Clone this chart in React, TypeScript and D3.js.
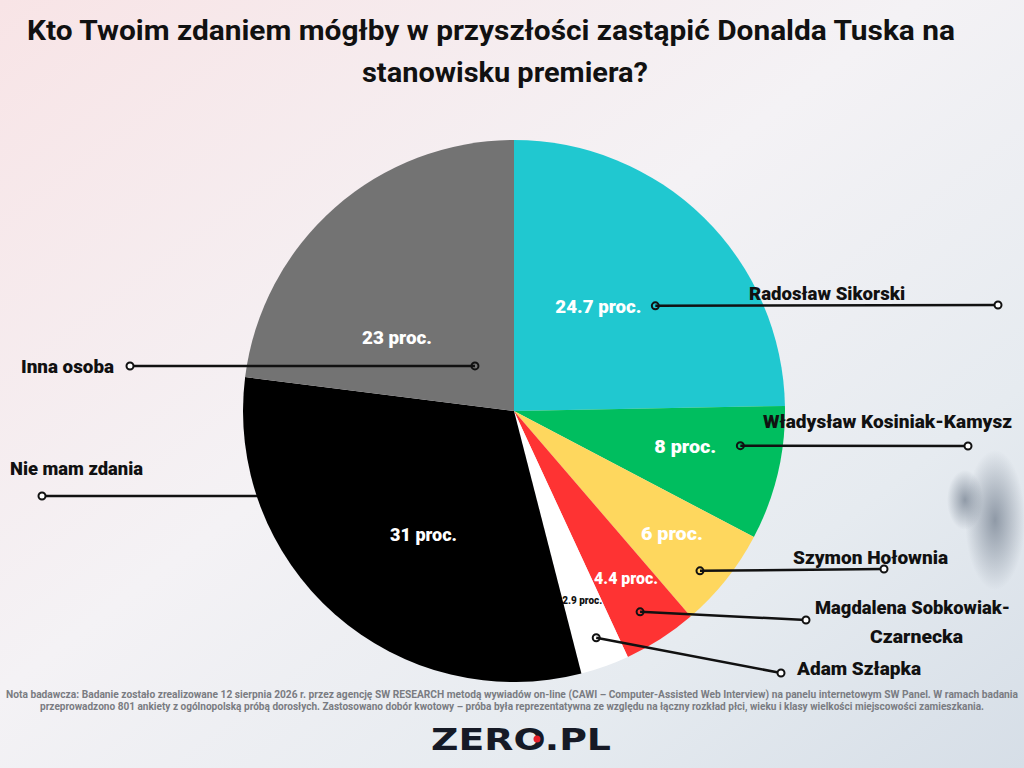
import React, { useEffect, useRef } from 'react';
import * as d3 from 'd3';

// data
const names = ['Radosław Sikorski', 'Władysław Kosiniak-Kamysz', 'Szymon Hołownia', 'Magdalena Sobkowiak-Czarnecka', 'Adam Szłapka', 'Nie mam zdania', 'Inna osoba'];
const values = [24.7, 8, 6, 4.4, 2.9, 31, 23];
const valueLabels = ['24.7 proc.', '8 proc.', '6 proc.', '4.4 proc.', '2.9 proc.', '31 proc.', '23 proc.'];
const colors = ['#20c8d0', '#00be5f', '#fed75e', '#fe3333', '#ffffff', '#000000', '#737373'];

const title = ['Kto Twoim zdaniem mógłby w przyszłości zastąpić Donalda Tuska na', 'stanowisku premiera?'];
const note = [
  'Nota badawcza: Badanie zostało zrealizowane 12 sierpnia 2026 r. przez agencję SW RESEARCH metodą wywiadów on-line (CAWI – Computer-Assisted Web Interview) na panelu internetowym SW Panel. W ramach badania',
  'przeprowadzono 801 ankiety z ogólnopolską próbą dorosłych. Zastosowano dobór kwotowy – próba była reprezentatywna ze względu na łączny rozkład płci, wieku i klasy wielkości miejscowości zamieszkania.'
];

// annotation layout: t = position inside slice, rf = radius fraction for the inner dot,
// end = outer dot, name lines (text, x, y, width), value label offset from the inner dot
const layout = [
  { t: 0.6, rf: 0.65, end: [998, 305], lines: [['Radosław Sikorski', 749, 300, 156]], vx: -14, vy: 7, anchor: 'end', vw: 86, vsize: 19 },
  { t: 0.34, rf: 0.845, end: [968, 446], lines: [['Władysław Kosiniak-Kamysz', 763, 428, 249]], vx: -24, vy: 7, anchor: 'end', vw: 62, vsize: 19 },
  { t: 0.6, rf: 0.905, end: [884, 569], lines: [['Szymon Hołownia', 793, 564, 155]], vx: -59, vy: -31, anchor: 'start', vw: 62, vsize: 19 },
  { t: 0.54, rf: 0.875, end: [806, 620], lines: [['Magdalena Sobkowiak-', 815, 614, 195], ['Czarnecka', 870, 643, 93]], vx: -46, vy: -28, anchor: 'start', vw: 64, vsize: 17 },
  { t: 0.47, rf: 0.89, end: [781, 673], lines: [['Adam Szłapka', 797, 675, 124]], vx: -34, vy: -34, anchor: 'start', vw: 40, vsize: 10 },
  { t: 0.62, rf: 0.68, end: [42, 496], lines: [['Nie mam zdania', 10, 475, 133]], vx: 0, vy: 0, anchor: 'start', vw: 67, vsize: 19 },
  { t: 0.506, rf: 0.22, end: [130, 366], lines: [['Inna osoba', 21, 373, 93]], vx: 0, vy: 0, anchor: 'start', vw: 70, vsize: 19 },
];
// value labels of the two big slices sit freely inside them
const freeValuePos: Record<number, number[]> = { 5: [390, 541], 6: [362, 344] };

const App: React.FC = () => {
  const ref = useRef<SVGSVGElement>(null);

  useEffect(() => {
    const width = 1024;
    const height = 768;
    const cx = 514;
    const cy = 411;
    const r = 271;

    const svg = d3.select(ref.current);
    svg.selectAll('*').remove();
    svg.attr('width', width).attr('height', height);

    // background
    const defs = svg.append('defs');
    const bg = defs.append('linearGradient').attr('id', 'bg')
      .attr('x1', '0%').attr('y1', '0%').attr('x2', '100%').attr('y2', '100%');
    bg.append('stop').attr('offset', '0%').attr('stop-color', '#f8e4e6');
    bg.append('stop').attr('offset', '45%').attr('stop-color', '#f4f2f5');
    bg.append('stop').attr('offset', '75%').attr('stop-color', '#e6ebf0');
    bg.append('stop').attr('offset', '100%').attr('stop-color', '#d6dee7');
    const blob = defs.append('radialGradient').attr('id', 'blob');
    blob.append('stop').attr('offset', '0%').attr('stop-color', '#6c7888').attr('stop-opacity', 0.7);
    blob.append('stop').attr('offset', '100%').attr('stop-color', '#6c7888').attr('stop-opacity', 0);

    svg.append('rect').attr('width', width).attr('height', height).attr('fill', 'url(#bg)');
    svg.append('ellipse').attr('cx', 995).attr('cy', 520).attr('rx', 30).attr('ry', 70).attr('fill', 'url(#blob)');
    svg.append('ellipse').attr('cx', 965).attr('cy', 500).attr('rx', 18).attr('ry', 30).attr('fill', 'url(#blob)');

    // title
    svg.append('g').selectAll('text')
      .data(title)
      .join('text')
      .attr('x', (d, i) => (i === 0 ? 27 : 362))
      .attr('y', (d, i) => 40 + i * 42)
      .attr('font-family', 'Roboto, sans-serif')
      .attr('font-weight', 700)
      .attr('font-size', 28)
      .attr('textLength', (d, i) => (i === 0 ? 928 : 286))
      .attr('lengthAdjust', 'spacingAndGlyphs')
      .attr('fill', '#111')
      .text(d => d);

    // pie
    const pie = d3.pie<number>().sort(null).value(d => d);
    const arcs = pie(values);
    const arc = d3.arc<d3.PieArcDatum<number>>().innerRadius(0).outerRadius(r);
    const g = svg.append('g').attr('transform', `translate(${cx},${cy})`);

    const inner = arcs.map((a, i) => {
      const ang = a.startAngle + layout[i].t * (a.endAngle - a.startAngle);
      const rr = layout[i].rf * r;
      return [cx + rr * Math.sin(ang), cy - rr * Math.cos(ang)];
    });

    // line of "Nie mam zdania" sits behind the pie
    svg.insert('line', 'g')
      .attr('x1', layout[5].end[0]).attr('y1', layout[5].end[1])
      .attr('x2', inner[5][0]).attr('y2', layout[5].end[1])
      .attr('stroke', '#111').attr('stroke-width', 2.5);

    g.selectAll('path')
      .data(arcs)
      .join('path')
      .attr('d', arc)
      .attr('fill', (d, i) => colors[i]);

    // leader lines, names, values
    const ann = svg.append('g');
    layout.forEach((l, i) => {
      if (i !== 5) {
        ann.append('line')
          .attr('x1', inner[i][0]).attr('y1', inner[i][1])
          .attr('x2', l.end[0]).attr('y2', l.end[1])
          .attr('stroke', '#111').attr('stroke-width', 2.5);
        ann.append('circle')
          .attr('cx', inner[i][0]).attr('cy', inner[i][1]).attr('r', 3.5)
          .attr('fill', 'none').attr('stroke', '#111').attr('stroke-width', 2);
      }
      ann.append('circle')
        .attr('cx', l.end[0]).attr('cy', l.end[1]).attr('r', 3.5)
        .attr('fill', '#fff').attr('stroke', '#111').attr('stroke-width', 2);

      ann.selectAll(null)
        .data(l.lines)
        .join('text')
        .attr('x', d => d[1] as number)
        .attr('y', d => d[2] as number)
        .attr('font-family', 'Roboto, sans-serif')
        .attr('font-weight', 900)
        .attr('font-size', 18)
        .attr('textLength', d => d[3] as number)
        .attr('lengthAdjust', 'spacingAndGlyphs')
        .attr('fill', '#111')
        .text(d => d[0] as string);

      const free = freeValuePos[i];
      const vAnchor = free ? 'start' : l.anchor;
      const vx = free ? free[0] : inner[i][0] + l.vx;
      const vy = free ? free[1] : inner[i][1] + l.vy;
      ann.append('text')
        .attr('x', vAnchor === 'end' ? vx - l.vw : vx)
        .attr('y', vy)
        .attr('font-family', 'Roboto, sans-serif')
        .attr('font-weight', 900)
        .attr('font-size', l.vsize)
        .attr('textLength', l.vw)
        .attr('lengthAdjust', 'spacingAndGlyphs')
        .attr('fill', i === 4 ? '#111' : '#fff')
        .text(valueLabels[i]);
    });

    // footnote
    svg.append('g').selectAll('text')
      .data(note)
      .join('text')
      .attr('x', 512)
      .attr('y', (d, i) => 698 + i * 12)
      .attr('text-anchor', 'middle')
      .attr('font-family', 'Roboto, sans-serif')
      .attr('font-weight', 700)
      .attr('font-size', 10)
      .attr('textLength', (d, i) => (i === 0 ? 1012 : 944))
      .attr('lengthAdjust', 'spacingAndGlyphs')
      .attr('fill', '#7a7c82')
      .text(d => d);

    // logo
    svg.append('text')
      .attr('x', 521)
      .attr('y', 750)
      .attr('text-anchor', 'middle')
      .attr('font-family', '"DejaVu Sans", sans-serif')
      .attr('font-weight', 700)
      .attr('font-size', 30)
      .attr('textLength', 180)
      .attr('lengthAdjust', 'spacingAndGlyphs')
      .attr('fill', '#161a26')
      .text('ZERO.PL');
    svg.append('circle').attr('cx', 537).attr('cy', 739).attr('r', 3.5).attr('fill', '#e8202a');
  }, []);

  return <svg ref={ref} style={{ position: 'absolute', left: 0, top: 0 }} />;
};

export default App;
